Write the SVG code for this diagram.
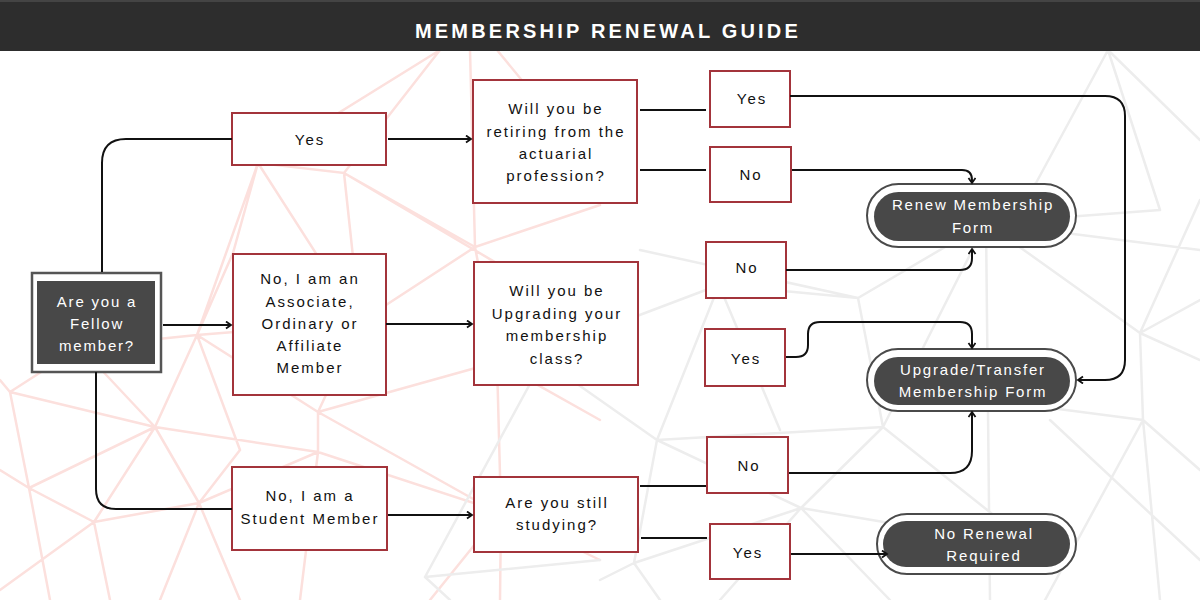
<svg xmlns="http://www.w3.org/2000/svg" width="1200" height="600" viewBox="0 0 1200 600">
<defs>
<style>
.bgp{stroke:#fce0dd;stroke-width:2.5;fill:none;stroke-linecap:round}
.bgg{stroke:#ededed;stroke-width:2.5;fill:none;stroke-linecap:round}
.box{fill:#ffffff;stroke:#a3343b;stroke-width:2}
.t{font-family:"Liberation Sans",Arial,sans-serif;font-size:15px;letter-spacing:2px;fill:#111111;text-anchor:middle}
.tw{font-family:"Liberation Sans",Arial,sans-serif;font-size:15px;letter-spacing:1.8px;fill:#ffffff;text-anchor:middle}
.pillo{fill:#ffffff;stroke:#4a4a4a;stroke-width:2}
.pilli{fill:#484848}
.c{fill:none;stroke:#111111;stroke-width:2}
</style>
<marker id="arr" markerUnits="userSpaceOnUse" markerWidth="10" markerHeight="10" refX="6" refY="4" orient="auto">
<path d="M1,0.5 L6,4 L1,7.5" fill="none" stroke="#111111" stroke-width="1.8"/>
</marker>
</defs>
<rect x="0" y="0" width="1200" height="600" fill="#ffffff"/>
<g id="background">
<path class="bgp" d="M440,50 L258,163 L344,173 L440,50 M470,50 L475,247 M497,50 L600,175 M258,163 L197,335 M258,163 L360,322 M344,173 L360,322 M344,173 L475,247 M344,173 L610,330 M475,247 L360,322 M475,247 L600,205 M475,247 L497,362 M197,335 L360,322 M197,335 L80,347 M197,335 L155,427 M197,335 L318,412 M197,335 L233,253 M197,335 L240,450 M80,347 L10,392 M80,347 L155,427 M10,392 L0,380 M10,392 L155,427 M10,392 L29,488 M155,427 L29,488 M155,427 L94,522 M155,427 L199,503 M155,427 L318,452 M29,488 L94,522 M29,488 L0,470 M29,488 L50,600 M94,522 L199,503 M94,522 L0,590 M94,522 L110,600 M199,503 L318,452 M199,503 L160,600 M199,503 L240,600 M318,412 L360,322 M318,412 L318,452 M318,412 L497,362 M318,412 L475,500 M318,452 L300,600 M318,452 L501,512 M497,362 L501,512 M497,362 L600,420 M497,362 L600,330 M501,512 L430,600 M501,512 L600,560 M501,512 L500,600 M240,450 L199,503 M233,253 L258,163"/>
<path class="bgg" d="M1108,50 L1036,183 M1108,50 L1200,140 M1108,50 L1160,210 M1108,50 L1000,50 M1036,183 L986,223 M986,223 L1200,250 M986,223 L1140,333 M986,223 L990,600 M986,223 L858,298 M986,223 L883,427 M986,223 L1160,210 M858,298 L719,285 M719,285 L600,330 M719,285 L657,440 M719,285 L780,430 M858,298 L883,427 M858,298 L640,250 M657,440 L883,427 M657,440 L801,508 M657,440 L634,563 M883,427 L801,508 M883,427 L1050,560 M801,508 L634,563 M801,508 L720,600 M801,508 L890,600 M801,508 L990,540 M1140,333 L1143,420 M1140,333 L1200,300 M1140,333 L1200,360 M1143,420 L1200,470 M1143,420 L1045,600 M1143,420 L990,400 M1143,420 L1160,600 M634,563 L600,580 M634,563 L660,600 M543,360 L425,577 M543,360 L657,440 M543,360 L610,330 M425,577 L600,560 M425,577 L450,600 M1050,420 L1200,560 M1200,200 L1140,333"/>
</g>
<g id="title">
<rect x="0" y="0" width="1200" height="51" fill="#2d2d2d"/>
<rect x="0" y="0" width="1200" height="2" fill="#444444"/>
<text x="608" y="38" font-family="Liberation Sans,Arial,sans-serif" font-size="20" font-weight="bold" letter-spacing="3.2" fill="#ffffff" text-anchor="middle">MEMBERSHIP RENEWAL GUIDE</text>
</g>
<g id="fellow">
<rect x="32" y="273" width="129" height="99" fill="#ffffff" stroke="#555555" stroke-width="2.5"/>
<rect x="37" y="281" width="118" height="83" fill="#484848"/>
<text class="tw" x="97" y="307">Are you a</text>
<text class="tw" x="97" y="329">Fellow</text>
<text class="tw" x="97" y="351">member?</text>
</g>
<g id="yes1">
<rect class="box" x="232" y="113" width="154" height="52"/>
<text class="t" x="310" y="145">Yes</text>
</g>
<g id="associate">
<rect class="box" x="233" y="254" width="153" height="141"/>
<text class="t" x="310" y="284">No, I am an</text>
<text class="t" x="310" y="306.5">Associate,</text>
<text class="t" x="310" y="329">Ordinary or</text>
<text class="t" x="310" y="351">Affiliate</text>
<text class="t" x="310" y="373">Member</text>
</g>
<g id="student">
<rect class="box" x="232" y="467" width="155" height="83"/>
<text class="t" x="310" y="501">No, I am a</text>
<text class="t" x="310" y="524">Student Member</text>
</g>
<g id="retiring">
<rect class="box" x="473" y="80" width="164" height="123"/>
<text class="t" x="556" y="114">Will you be</text>
<text class="t" x="556" y="136.5">retiring from the</text>
<text class="t" x="556" y="159">actuarial</text>
<text class="t" x="556" y="181">profession?</text>
</g>
<g id="upgrading">
<rect class="box" x="474" y="262" width="164" height="123"/>
<text class="t" x="557" y="296">Will you be</text>
<text class="t" x="557" y="318.5">Upgrading your</text>
<text class="t" x="557" y="341">membership</text>
<text class="t" x="557" y="363.5">class?</text>
</g>
<g id="studying">
<rect class="box" x="474" y="477" width="164" height="75"/>
<text class="t" x="557" y="508">Are you still</text>
<text class="t" x="557" y="530">studying?</text>
</g>
<g id="yes-retire">
<rect class="box" x="710" y="71" width="80" height="56"/>
<text class="t" x="752" y="104">Yes</text>
</g>
<g id="no-retire">
<rect class="box" x="710" y="147" width="81" height="55"/>
<text class="t" x="751" y="180">No</text>
</g>
<g id="no-upgrade">
<rect class="box" x="706" y="242" width="80" height="56"/>
<text class="t" x="747" y="273">No</text>
</g>
<g id="yes-upgrade">
<rect class="box" x="705" y="329" width="80" height="57"/>
<text class="t" x="746" y="364">Yes</text>
</g>
<g id="no-study">
<rect class="box" x="707" y="437" width="81" height="56"/>
<text class="t" x="749" y="471">No</text>
</g>
<g id="yes-study">
<rect class="box" x="710" y="524" width="80" height="55"/>
<text class="t" x="748" y="558">Yes</text>
</g>
<g id="renew">
<rect class="pillo" x="867" y="184" width="209" height="63" rx="31.5"/>
<rect class="pilli" x="874" y="192" width="196" height="49" rx="24.5"/>
<text class="tw" x="973" y="210">Renew Membership</text>
<text class="tw" x="973" y="232.5">Form</text>
</g>
<g id="upgrade-form">
<rect class="pillo" x="867" y="349" width="209" height="62" rx="31"/>
<rect class="pilli" x="874" y="357" width="196" height="48" rx="24"/>
<text class="tw" x="973" y="375">Upgrade/Transfer</text>
<text class="tw" x="973" y="397">Membership Form</text>
</g>
<g id="no-renewal">
<rect class="pillo" x="877" y="514" width="199" height="60" rx="30"/>
<rect class="pilli" x="883" y="521" width="187" height="46" rx="23"/>
<text class="tw" x="984" y="539">No Renewal</text>
<text class="tw" x="984" y="560.5">Required</text>
</g>
<g id="connectors">
<path class="c" d="M102,272 V163 Q102,139 126,139 H232"/>
<path class="c" d="M163,325 H231" marker-end="url(#arr)"/>
<path class="c" d="M96,372 V489 Q96,509 116,509 H232"/>
<path class="c" d="M388,139 H471" marker-end="url(#arr)"/>
<path class="c" d="M386,324 H472" marker-end="url(#arr)"/>
<path class="c" d="M388,515 H472" marker-end="url(#arr)"/>
<path class="c" d="M640,110 H706 M640,170 H706"/>
<path class="c" d="M790,96 H1105 Q1125,96 1125,116 V360 Q1125,380 1105,380 H1078" marker-end="url(#arr)"/>
<path class="c" d="M792,170 H962 Q972,170 972,180 V183" marker-end="url(#arr)"/>
<path class="c" d="M786,270 H960 Q972,270 972,258 V249" marker-end="url(#arr)"/>
<path class="c" d="M786,357 H796 Q808,357 808,345 V334 Q808,322 820,322 H960 Q972,322 972,334 V348" marker-end="url(#arr)"/>
<path class="c" d="M640,486 H706 M641,538 H707"/>
<path class="c" d="M789,473 H950 Q972,473 972,451 V412" marker-end="url(#arr)"/>
<path class="c" d="M791,554 H887" marker-end="url(#arr)"/>
</g>
</svg>
